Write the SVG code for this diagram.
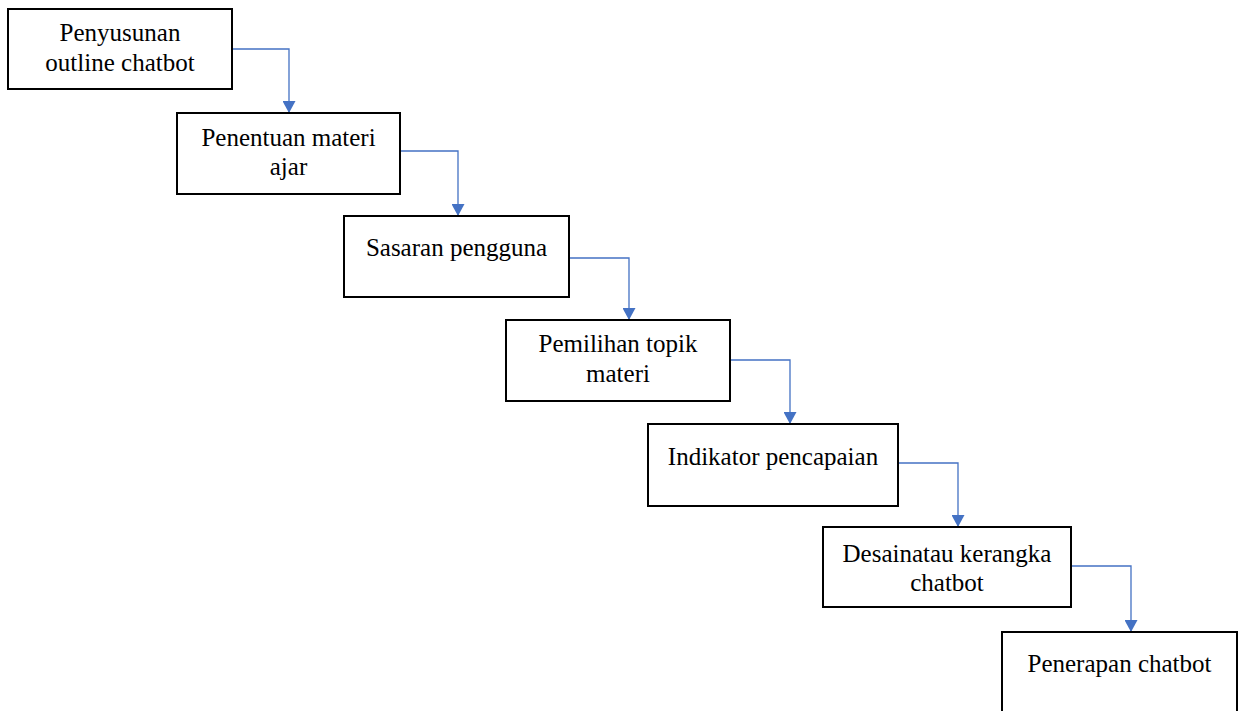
<svg xmlns="http://www.w3.org/2000/svg" width="1241" height="711" viewBox="0 0 1241 711">
<defs>
<style>
.box{fill:#fff;stroke:#000;stroke-width:2}
.t{font-family:"Liberation Serif","Times New Roman",serif;font-size:25px;fill:#000;text-anchor:middle}
.c{fill:none;stroke:#4472C4;stroke-width:1.3}
</style>
<marker id="ah" markerUnits="userSpaceOnUse" markerWidth="13" markerHeight="13" refX="11" refY="6" orient="auto" viewBox="0 0 12 12">
<path d="M0,0 L11,6 L0,12 Z" fill="#4472C4"/>
</marker>
</defs>
<rect width="1241" height="711" fill="#fff"/>
<g id="connectors">
<path class="c" d="M232,49 H289 V113" marker-end="url(#ah)"/>
<path class="c" d="M400,151 H458 V216" marker-end="url(#ah)"/>
<path class="c" d="M569,258 H629 V320" marker-end="url(#ah)"/>
<path class="c" d="M730,360 H790 V424" marker-end="url(#ah)"/>
<path class="c" d="M898,463 H958 V527" marker-end="url(#ah)"/>
<path class="c" d="M1071,566 H1131 V632" marker-end="url(#ah)"/>
</g>
<g id="n1"><rect class="box" x="8" y="9" width="224" height="80"/><text class="t" x="120" y="41">Penyusunan</text><text class="t" x="120" y="71">outline chatbot</text></g>
<g id="n2"><rect class="box" x="177" y="113" width="223" height="81"/><text class="t" x="288.5" y="146">Penentuan materi</text><text class="t" x="288.5" y="175">ajar</text></g>
<g id="n3"><rect class="box" x="344" y="216" width="225" height="81"/><text class="t" x="456.5" y="256">Sasaran pengguna</text></g>
<g id="n4"><rect class="box" x="506" y="320" width="224" height="81"/><text class="t" x="618" y="352">Pemilihan topik</text><text class="t" x="618" y="382">materi</text></g>
<g id="n5"><rect class="box" x="648" y="424" width="250" height="82"/><text class="t" x="773" y="465">Indikator pencapaian</text></g>
<g id="n6"><rect class="box" x="823" y="527" width="248" height="80"/><text class="t" x="947" y="562">Desainatau kerangka</text><text class="t" x="947" y="591">chatbot</text></g>
<g id="n7"><rect class="box" x="1002" y="632" width="235" height="85"/><text class="t" x="1119.5" y="672">Penerapan chatbot</text></g>
</svg>
